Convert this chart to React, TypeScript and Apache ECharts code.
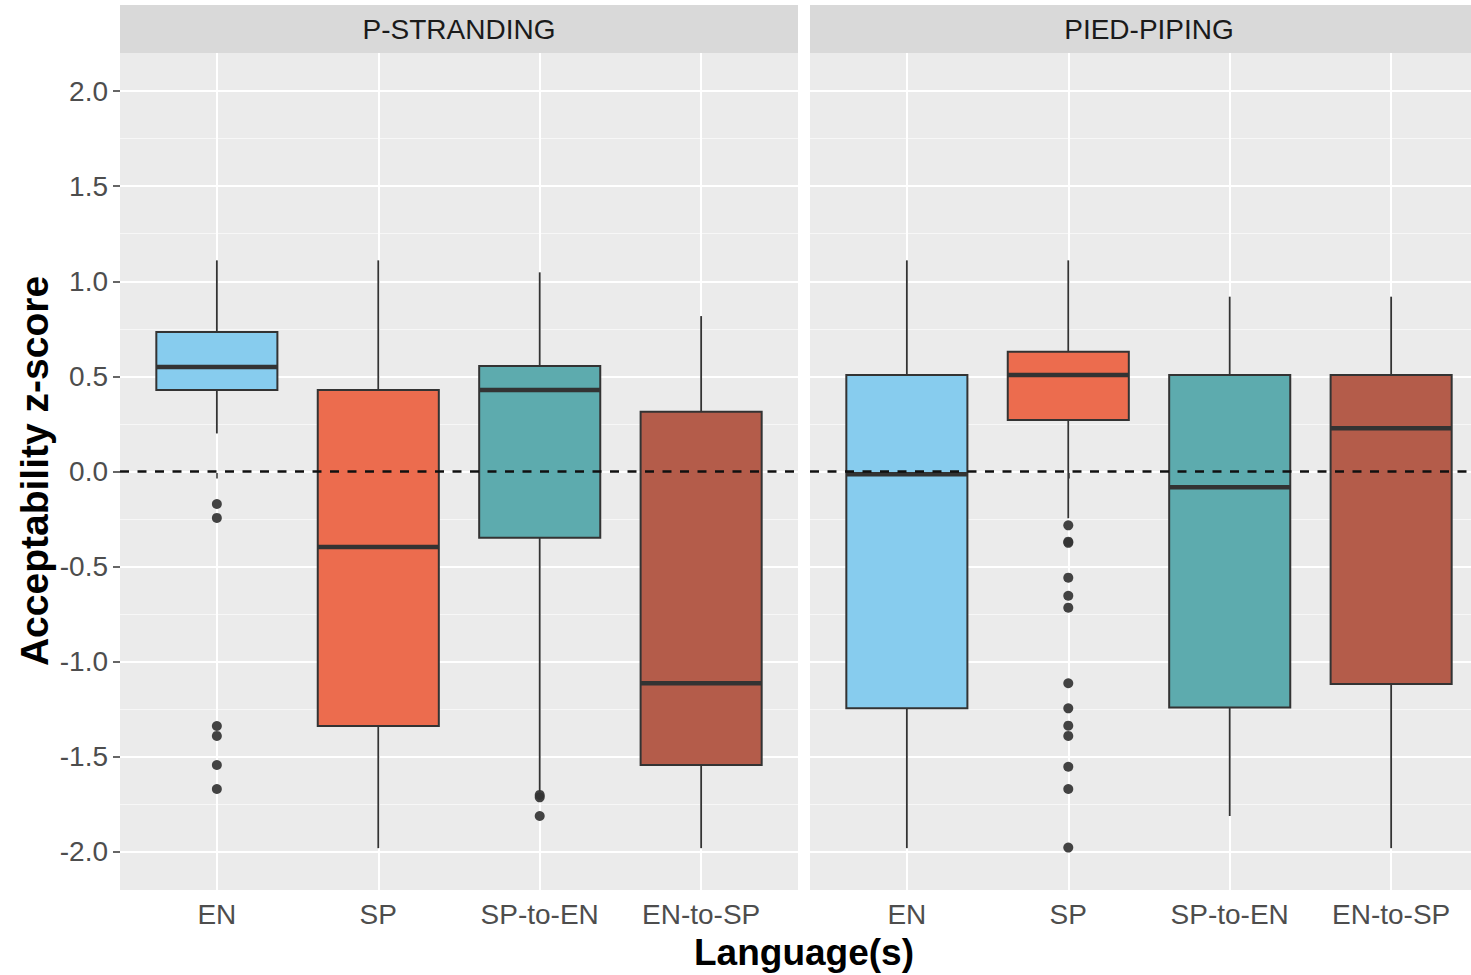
import React, { useEffect, useRef } from "react";
import * as echarts from "echarts";

const categories = ["EN", "SP", "SP-to-EN", "EN-to-SP"];
const panels = ["P-STRANDING", "PIED-PIPING"];
const yTicks = [-2, -1.5, -1, -0.5, 0, 0.5, 1, 1.5, 2];
const yMinorTicks = [-1.75, -1.25, -0.75, -0.25, 0.25, 0.75, 1.25, 1.75];
const boxColors = ["#87CCEE", "#EC6C4E", "#5DABAE", "#B45C4A"];

// [lower whisker, Q1, median, Q3, upper whisker]
const strandingBoxes = [
  [0.2, 0.428, 0.549, 0.733, 1.11],
  [-1.98, -1.338, -0.397, 0.428, 1.11],
  [-1.683, -0.348, 0.428, 0.555, 1.047],
  [-1.98, -1.543, -1.113, 0.314, 0.817],
];
const pipingBoxes = [
  [-1.98, -1.245, -0.015, 0.507, 1.11],
  [-0.246, 0.271, 0.507, 0.63, 1.11],
  [-1.811, -1.24, -0.083, 0.507, 0.919],
  [-1.98, -1.117, 0.227, 0.507, 0.919],
];
const strandingOutliers = [
  [-0.171, -0.244, -1.338, -1.39, -1.543, -1.669],
  [],
  [-1.7, -1.713, -1.811],
  [],
];
const pipingOutliers = [
  [],
  [-0.283, -0.369, -0.375, -0.558, -0.653, -0.716, -1.113, -1.245, -1.336, -1.39, -1.552, -1.669, -1.977],
  [],
  [],
];

const FONT = "'Liberation Sans', Arial, Helvetica, sans-serif";
const GRID_LEFT = [120, 810];
const GRID_TOP = 53;
const GRID_W = 678;
const GRID_H = 837;
const CHART_W = 1500;

function boxData(boxes: number[][]) {
  return boxes.map((b, i) => [i + 1, ...b, i]);
}
function outlierData(outs: number[][]) {
  const res: number[][] = [];
  outs.forEach((arr, i) => arr.forEach((v) => res.push([i + 1, v])));
  return res;
}

const renderBox = (params: any, api: any) => {
  const x = api.value(0);
  const lo = api.coord([x, api.value(1)]);
  const q1 = api.coord([x, api.value(2)]);
  const med = api.coord([x, api.value(3)]);
  const q3 = api.coord([x, api.value(4)]);
  const hi = api.coord([x, api.value(5)]);
  const w = api.size([0.75, 0])[0];
  const color = boxColors[api.value(6)];
  const line = { stroke: "#333333", lineWidth: 1.8 };
  return {
    type: "group",
    children: [
      { type: "line", shape: { x1: lo[0], y1: lo[1], x2: q1[0], y2: q1[1] }, style: line },
      { type: "line", shape: { x1: q3[0], y1: q3[1], x2: hi[0], y2: hi[1] }, style: line },
      {
        type: "rect",
        shape: { x: q3[0] - w / 2, y: q3[1], width: w, height: q1[1] - q3[1] },
        style: { fill: color, stroke: "#333333", lineWidth: 2 },
      },
      {
        type: "line",
        shape: { x1: med[0] - w / 2, y1: med[1], x2: med[0] + w / 2, y2: med[1] },
        style: { stroke: "#333333", lineWidth: 4.5 },
      },
    ],
  };
};

export default function App() {
  const ref = useRef<HTMLDivElement>(null);
  useEffect(() => {
    if (!ref.current) return;
    const chart = echarts.init(ref.current, null, { renderer: "svg" });

    const grids = GRID_LEFT.map((left) => ({
      left,
      top: GRID_TOP,
      width: GRID_W,
      height: GRID_H,
      show: true,
      backgroundColor: "#EBEBEB",
      borderWidth: 0,
    }));

    const xAxes = [0, 1].map((g) => ({
      type: "value",
      gridIndex: g,
      min: 0.4,
      max: 4.6,
      axisLine: { show: false },
      axisTick: { show: true, length: 7, customValues: [1, 2, 3, 4], lineStyle: { color: "#333333", width: 1.5 } },
      axisLabel: {
        customValues: [1, 2, 3, 4],
        formatter: (v: number) => categories[Math.round(v) - 1] ?? "",
        fontSize: 28,
        color: "#4D4D4D",
        fontFamily: FONT,
        margin: 10,
      },
      splitLine: { show: true, lineStyle: { color: "#FFFFFF", width: 2 } },
    }));

    const yAxes: any[] = [];
    [0, 1].forEach((g) => {
      yAxes.push({
        type: "value",
        gridIndex: g,
        min: -2.2,
        max: 2.2,
        position: "left",
        axisLine: { show: false },
        axisTick: { show: g === 0, length: 7, customValues: yTicks, lineStyle: { color: "#333333", width: 1.5 } },
        axisLabel: {
          show: g === 0,
          customValues: yTicks,
          formatter: (v: number) => v.toFixed(1),
          fontSize: 28,
          color: "#4D4D4D",
          fontFamily: FONT,
          margin: 12,
        },
        splitLine: { show: true, lineStyle: { color: "#FFFFFF", width: 2 } },
        z: 1,
      });
    });
    [0, 1].forEach((g) => {
      yAxes.push({
        type: "value",
        gridIndex: g,
        min: -2.2,
        max: 2.2,
        position: "left",
        axisLine: { show: false },
        axisTick: { show: false, customValues: yMinorTicks },
        axisLabel: { show: false, customValues: yMinorTicks },
        splitLine: { show: true, lineStyle: { color: "#F7F7F7", width: 1 } },
        z: 0,
      });
    });

    const allBoxes = [strandingBoxes, pipingBoxes];
    const allOutliers = [strandingOutliers, pipingOutliers];
    const series: any[] = [];
    [0, 1].forEach((g) => {
      series.push({
        type: "custom",
        xAxisIndex: g,
        yAxisIndex: g,
        renderItem: renderBox,
        encode: { x: 0, y: [1, 2, 3, 4, 5] },
        data: boxData(allBoxes[g]),
        z: 2,
        silent: true,
      });
      series.push({
        type: "scatter",
        xAxisIndex: g,
        yAxisIndex: g,
        symbol: "circle",
        symbolSize: 10,
        itemStyle: { color: "#333333", opacity: 0.92 },
        data: outlierData(allOutliers[g]),
        z: 3,
        silent: true,
        markLine: {
          silent: true,
          symbol: ["none", "none"],
          label: { show: false },
          lineStyle: { color: "#111111", width: 2.6, type: [9, 8.5] },
          data: [{ yAxis: 0 }],
          z: 4,
        },
      });
    });

    const graphic: any[] = [];
    panels.forEach((p, g) => {
      graphic.push({
        type: "rect",
        shape: { x: GRID_LEFT[g], y: 5, width: GRID_W, height: 48 },
        style: { fill: "#D9D9D9" },
        silent: true,
      });
      graphic.push({
        type: "text",
        x: GRID_LEFT[g] + GRID_W / 2,
        y: 29,
        style: {
          text: p,
          fontSize: 28,
          fill: "#1A1A1A",
          fontFamily: FONT,
          textAlign: "center",
          textVerticalAlign: "middle",
        },
        silent: true,
      });
    });
    graphic.push({
      type: "text",
      x: 804,
      y: 952,
      style: {
        text: "Language(s)",
        fontSize: 37,
        fontWeight: "bold",
        fill: "#000000",
        fontFamily: FONT,
        textAlign: "center",
        textVerticalAlign: "middle",
      },
      silent: true,
    });
    graphic.push({
      type: "text",
      x: 34,
      y: 471,
      rotation: Math.PI / 2,
      style: {
        text: "Acceptability z-score",
        fontSize: 39,
        fontWeight: "bold",
        fill: "#000000",
        fontFamily: FONT,
        textAlign: "center",
        textVerticalAlign: "middle",
      },
      silent: true,
    });

    chart.setOption({
      animation: false,
      backgroundColor: "#FFFFFF",
      grid: grids,
      xAxis: xAxes,
      yAxis: yAxes,
      series,
      graphic,
    });
    return () => chart.dispose();
  }, []);

  return (
    <div
      style={{
        position: "fixed",
        left: 0,
        top: 0,
        width: 1471,
        height: 975,
        overflow: "hidden",
        background: "#FFFFFF",
      }}
    >
      <div ref={ref} style={{ width: CHART_W, height: 975 }} />
    </div>
  );
}
